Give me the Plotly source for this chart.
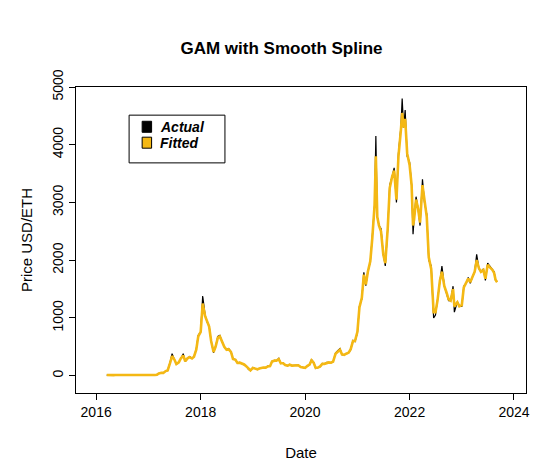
import plotly.graph_objects as go

# semi-monthly samples
dates = [
    "2016-03-15", "2016-04-01", "2016-04-15", "2016-05-01", "2016-05-15", "2016-06-01", "2016-06-15",
    "2016-07-01", "2016-07-15", "2016-08-01", "2016-08-15", "2016-09-01", "2016-09-15", "2016-10-01",
    "2016-10-15", "2016-11-01", "2016-11-15", "2016-12-01", "2016-12-15",
    "2017-01-01", "2017-01-15", "2017-02-01", "2017-02-15", "2017-03-01", "2017-03-15", "2017-04-01",
    "2017-04-15", "2017-05-01", "2017-05-15", "2017-06-01", "2017-06-15", "2017-07-01", "2017-07-15",
    "2017-08-01", "2017-08-15", "2017-09-01", "2017-09-15", "2017-10-01", "2017-10-15", "2017-11-01",
    "2017-11-15", "2017-12-01", "2017-12-15",
    "2018-01-01", "2018-01-15", "2018-02-01", "2018-02-15", "2018-03-01", "2018-03-15", "2018-04-01",
    "2018-04-15", "2018-05-01", "2018-05-15", "2018-06-01", "2018-06-15", "2018-07-01", "2018-07-15",
    "2018-08-01", "2018-08-15", "2018-09-01", "2018-09-15", "2018-10-01", "2018-10-15", "2018-11-01",
    "2018-11-15", "2018-12-01", "2018-12-15",
    "2019-01-01", "2019-01-15", "2019-02-01", "2019-02-15", "2019-03-01", "2019-03-15", "2019-04-01",
    "2019-04-15", "2019-05-01", "2019-05-15", "2019-06-01", "2019-06-15", "2019-07-01", "2019-07-15",
    "2019-08-01", "2019-08-15", "2019-09-01", "2019-09-15", "2019-10-01", "2019-10-15", "2019-11-01",
    "2019-11-15", "2019-12-01", "2019-12-15",
    "2020-01-01", "2020-01-15", "2020-02-01", "2020-02-15", "2020-03-01", "2020-03-15", "2020-04-01",
    "2020-04-15", "2020-05-01", "2020-05-15", "2020-06-01", "2020-06-15", "2020-07-01", "2020-07-15",
    "2020-08-01", "2020-08-15", "2020-09-01", "2020-09-15", "2020-10-01", "2020-10-15", "2020-11-01",
    "2020-11-15", "2020-12-01", "2020-12-15",
    "2021-01-01", "2021-01-15", "2021-02-01", "2021-02-15", "2021-03-01", "2021-03-15", "2021-04-01",
    "2021-04-15", "2021-05-01", "2021-05-10", "2021-05-20", "2021-06-01", "2021-06-15", "2021-07-01",
    "2021-07-15", "2021-08-01", "2021-08-15", "2021-09-01", "2021-09-15", "2021-10-01", "2021-10-15",
    "2021-11-01", "2021-11-10", "2021-11-20", "2021-12-01", "2021-12-15",
    "2022-01-01", "2022-01-15", "2022-01-25", "2022-02-01", "2022-02-15", "2022-03-01", "2022-03-15",
    "2022-04-01", "2022-04-15", "2022-05-01", "2022-05-15", "2022-06-01", "2022-06-18", "2022-07-01",
    "2022-07-15", "2022-08-01", "2022-08-15", "2022-09-01", "2022-09-15", "2022-10-01", "2022-10-15",
    "2022-11-01", "2022-11-10", "2022-12-01", "2022-12-15",
    "2023-01-01", "2023-01-15", "2023-02-01", "2023-02-15", "2023-03-01", "2023-03-15", "2023-04-01",
    "2023-04-15", "2023-05-01", "2023-05-15", "2023-06-01", "2023-06-15", "2023-07-01", "2023-07-15",
    "2023-08-01", "2023-08-15", "2023-08-25", "2023-09-05",
]

actual = [
    11, 8, 8, 9, 13, 14, 20, 12, 11, 11, 11, 12, 12, 13, 12, 11, 10, 8, 8,
    8, 10, 11, 13, 17, 40, 50, 48, 80, 90, 230, 380, 280, 200, 230, 300, 380, 250, 300, 330, 300, 330, 460, 700,
    760, 1380, 1050, 930, 860, 600, 400, 500, 680, 700, 580, 500, 450, 470, 420, 290, 280, 220, 230, 210, 200, 170, 110, 85,
    140, 125, 107, 125, 135, 140, 140, 165, 160, 250, 265, 260, 300, 210, 220, 185, 170, 195, 175, 180, 185, 185, 150, 135,
    130, 165, 185, 280, 230, 125, 135, 155, 210, 200, 230, 230, 225, 240, 390, 430, 470, 365, 360, 380, 395, 450, 610, 590,
    740, 1200, 1330, 1790, 1560, 1800, 1970, 2400, 2950, 4150, 2750, 2600, 2550, 2100, 1900, 2550, 3300, 3450, 3600, 3000, 3850,
    4300, 4800, 4300, 4600, 3800,
    3700, 3300, 2450, 2700, 3100, 2900, 2600, 3400, 3000, 2800, 2000, 1900, 1000, 1050, 1300, 1650, 1900, 1550, 1450, 1300, 1300,
    1550, 1100, 1280, 1200,
    1200, 1550, 1600, 1700, 1600, 1700, 1800, 2100, 1850, 1800, 1850, 1650, 1950, 1900, 1850, 1800, 1650, 1630,
]

fitted = [
    11, 8, 8, 9, 13, 14, 18, 12, 11, 11, 11, 12, 12, 13, 12, 11, 10, 8, 8,
    8, 10, 11, 13, 17, 40, 50, 48, 80, 90, 220, 340, 280, 200, 230, 300, 350, 250, 300, 320, 300, 330, 450, 680,
    760, 1250, 1030, 920, 850, 600, 410, 500, 660, 680, 570, 500, 450, 460, 410, 290, 275, 220, 225, 210, 195, 165, 115, 90,
    135, 125, 110, 125, 135, 140, 140, 160, 165, 245, 260, 260, 285, 215, 215, 185, 175, 190, 175, 180, 180, 180, 150, 140,
    135, 165, 190, 265, 225, 135, 140, 160, 205, 205, 225, 230, 225, 245, 380, 420, 450, 370, 360, 380, 400, 460, 600, 600,
    760, 1180, 1350, 1750, 1580, 1800, 1980, 2380, 2950, 3800, 2750, 2600, 2500, 2100, 1950, 2550, 3250, 3450, 3550, 3050, 3800,
    4250, 4550, 4300, 4450, 3850,
    3650, 3300, 2600, 2700, 3050, 2900, 2650, 3300, 3000, 2750, 2050, 1850, 1100, 1100, 1300, 1650, 1800, 1550, 1450, 1320, 1300,
    1500, 1200, 1270, 1200,
    1220, 1530, 1600, 1680, 1620, 1700, 1800, 2000, 1860, 1800, 1830, 1680, 1920, 1880, 1840, 1780, 1660, 1620,
]

x_ticks = ["2016-01-01", "2018-01-01", "2020-01-01", "2022-01-01", "2024-01-01"]
x_labels = ["2016", "2018", "2020", "2022", "2024"]
y_ticks = [0, 1000, 2000, 3000, 4000, 5000]

GOLD = "#F4B814"
FONT = "Liberation Sans, Arial, sans-serif"

fig = go.Figure()
fig.add_trace(go.Scatter(x=dates, y=actual, mode="lines", name="Actual",
                         line=dict(color="black", width=1.2)))
fig.add_trace(go.Scatter(x=dates, y=fitted, mode="lines", name="Fitted",
                         line=dict(color=GOLD, width=2.6)))

axis_common = dict(showline=True, mirror=True, linecolor="black", linewidth=1,
                   ticks="outside", ticklen=6, tickcolor="black", showgrid=False,
                   zeroline=False, automargin=False, tickfont=dict(size=14, color="black"))

fig.update_layout(
    width=547, height=476,
    margin=dict(l=68, r=29, t=79, b=91),
    paper_bgcolor="white", plot_bgcolor="white",
    font=dict(family=FONT, color="black"),
    showlegend=False,
    title=dict(text="<b>GAM with Smooth Spline</b>", x=0.5, xanchor="center",
               y=0.915, yanchor="middle", font=dict(size=17)),
    xaxis=dict(range=["2015-08-13", "2024-03-25"], tickvals=x_ticks, ticktext=x_labels,
               title=dict(text="Date", font=dict(size=15), standoff=28), **axis_common),
    yaxis=dict(range=[-300, 5000], tickvals=y_ticks, tickangle=-90,
               title=dict(text="Price USD/ETH", font=dict(size=15), standoff=14), **axis_common),
)

# legend box drawn in the R style (filled squares, bold italic labels)
fig.add_shape(type="rect", xref="paper", yref="paper", x0=0.118, x1=0.331, y0=0.752, y1=0.908,
              line=dict(color="black", width=1), fillcolor="white")
for i, (name, col) in enumerate([("Actual", "black"), ("Fitted", GOLD)]):
    yc = 0.870 - i * 0.052
    fig.add_shape(type="rect", xref="paper", yref="paper", x0=0.147, x1=0.168,
                  y0=yc - 0.018, y1=yc + 0.018, line=dict(color="black", width=1), fillcolor=col)
    fig.add_annotation(xref="paper", yref="paper", x=0.183, y=yc, text=f"<b><i>{name}</i></b>",
                       showarrow=False, xanchor="left", yanchor="middle", font=dict(size=14))

fig.write_html("out.html")
